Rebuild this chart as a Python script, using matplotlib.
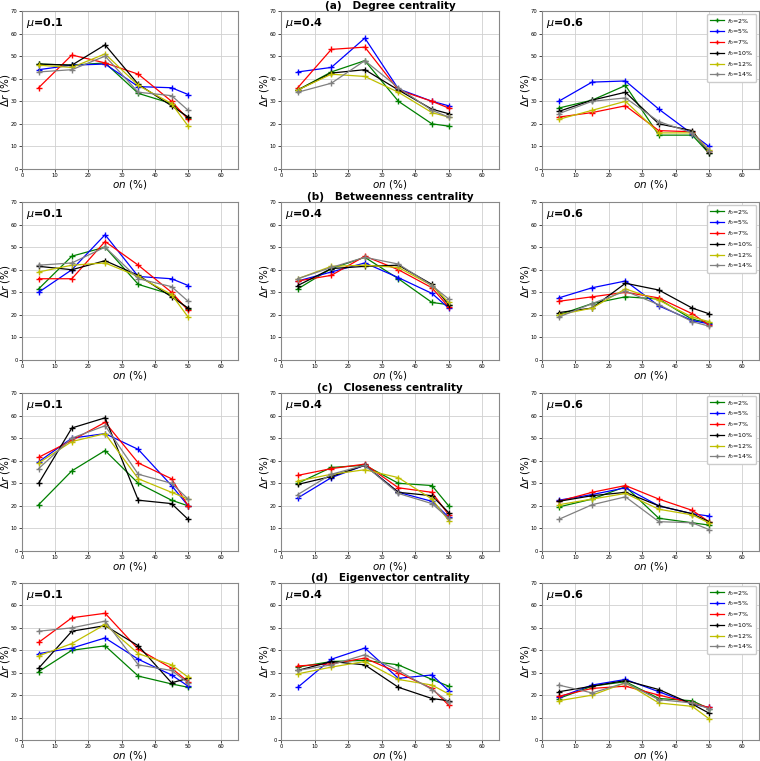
import matplotlib
matplotlib.use('Agg')
import matplotlib.pyplot as plt

# x positions (on %)
on_pct = [5, 15, 25, 35, 45, 50]

f0_labels = ['$f_0$=2%', '$f_0$=5%', '$f_0$=7%', '$f_0$=10%', '$f_0$=12%', '$f_0$=14%']
line_colors = ['green', 'blue', 'red', 'black', 'y', 'grey']

mu_values = ['0.1', '0.4', '0.6']
row_titles = ['(a)   Degree centrality', '(b)   Betweenness centrality',
              '(c)   Closeness centrality', '(d)   Eigenvector centrality']

# (a) degree centrality, order: 2%,5%,7%,10%,12%,14%
deg_mu01 = [[46.5, 46, 47, 33.5, 29, 22.5],
            [44, 46, 46.5, 36.5, 36, 33],
            [36, 50.5, 47, 42, 30, 22],
            [46.5, 46, 55, 37.5, 28, 23],
            [46, 45, 51, 37, 29, 19],
            [43, 44, 50, 34, 32.5, 26]]
deg_mu04 = [[35, 43, 48, 30, 20, 19],
            [43, 45, 58, 35.5, 30, 28],
            [36, 53, 54, 35, 30, 27],
            [35, 42.5, 44, 35, 26.5, 24.5],
            [35, 42, 41, 34, 25, 23],
            [34, 38, 48, 36, 26, 23]]
deg_mu06 = [[27, 30.5, 37, 15, 15, 7],
            [30, 38.5, 39, 26.5, 15.5, 10],
            [23, 25, 28, 17, 16.5, 8],
            [25.5, 30.5, 34, 20, 17, 7],
            [22, 26, 30, 16, 16, 8.5],
            [24.5, 30, 31.5, 21, 16, 8]]

# (b) betweenness centrality
btw_mu01 = [[31.5, 46, 50, 33.5, 29, 22.5],
            [30, 40, 55.5, 37, 36, 33],
            [36, 36, 52.5, 42, 30, 22],
            [41.5, 40, 44, 37.5, 28, 23],
            [39, 42, 43, 37, 29, 19],
            [42, 43, 50, 36, 32.5, 26]]
btw_mu04 = [[31.5, 40.5, 45.5, 36, 25.5, 24.5],
            [35, 39, 43, 36.5, 29.5, 23],
            [35, 37.5, 46, 40, 32, 23.5],
            [33, 40.5, 41.5, 42, 33.5, 24.5],
            [36, 41.5, 42, 41, 33, 25.5],
            [36, 41, 45.5, 42.5, 33, 27]]
btw_mu06 = [[20, 25, 28, 27, 18, 16.5],
            [27.5, 32, 35, 24, 17.5, 16],
            [26, 28, 30, 27.5, 20.5, 15.5],
            [21, 23, 34, 31, 23, 20.5],
            [20, 23, 31.5, 26.5, 19, 17],
            [19, 25, 30.5, 24.5, 17, 15]]

# (c) closeness centrality
clo_mu01 = [[20.5, 35.5, 44.5, 30, 22.5, 20],
            [39.5, 50, 52, 45, 29, 20],
            [41.5, 49, 57, 39, 32, 20],
            [30, 54.5, 59, 22.5, 21, 14],
            [39, 48.5, 52, 32, 26, 23],
            [36.5, 50, 55.5, 34, 30, 23]]
clo_mu04 = [[30, 37, 38, 30, 29, 20],
            [23.5, 32.5, 38, 26, 22, 15],
            [33.5, 36.5, 38.5, 28, 26, 16],
            [29.5, 33, 38, 26, 24.5, 17],
            [31, 34, 36, 32.5, 23, 13.5],
            [25, 34, 38, 25.5, 21, 14.5]]
clo_mu06 = [[19.5, 23, 28.5, 14.5, 12.5, 11.5],
            [22.5, 25, 28, 20, 16.5, 15.5],
            [22, 26, 29, 23, 18, 13],
            [22, 24.5, 26, 20, 16.5, 13],
            [20.5, 23, 25.5, 18.5, 16, 12.5],
            [14, 20.5, 24, 13, 12.5, 9.5]]

# (d) eigenvector centrality
eig_mu01 = [[30.5, 40, 42, 28.5, 25, 23.5],
            [38.5, 41, 45.5, 36, 29, 24],
            [43.5, 54.5, 56.5, 40.5, 32, 26],
            [32, 48.5, 51, 42, 25.5, 27.5],
            [37.5, 43, 51.5, 38.5, 33.5, 28],
            [48.5, 50, 53, 33.5, 31, 25.5]]
eig_mu04 = [[32.5, 35, 35.5, 33.5, 27, 24],
            [23.5, 36, 41, 27.5, 29, 22],
            [33, 34, 36.5, 30, 23, 15.5],
            [31, 35, 33.5, 23.5, 18.5, 17.5],
            [29.5, 32.5, 35, 27, 24.5, 20.5],
            [31, 33.5, 38, 31, 22.5, 17]]
eig_mu06 = [[18.5, 24, 26, 18.5, 17.5, 14],
            [19, 24.5, 27, 21.5, 16, 14.5],
            [19.5, 23, 24, 20, 16.5, 14.5],
            [21.5, 24, 26.5, 22.5, 16, 12],
            [17.5, 20, 25.5, 16.5, 15, 9.5],
            [24.5, 21, 25.5, 18, 16.5, 14]]

all_data = [[deg_mu01, deg_mu04, deg_mu06],
            [btw_mu01, btw_mu04, btw_mu06],
            [clo_mu01, clo_mu04, clo_mu06],
            [eig_mu01, eig_mu04, eig_mu06]]

W, H = 760, 761
fig = plt.figure(figsize=(W / 100, H / 100), dpi=100)

#axes boxes in pixels
col_x = [(22, 238), (281, 499), (542, 759)]
row_y = [(11, 169), (202, 360), (393, 551), (583, 740)]

for r in range(4):
    for c in range(3):
        x0, x1 = col_x[c]
        y0, y1 = row_y[r]
        ax = fig.add_axes([x0 / W, 1 - y1 / H, (x1 - x0) / W, (y1 - y0) / H])
        for k in range(6):
            ax.plot(on_pct, all_data[r][c][k], color=line_colors[k], marker='+',
                    markersize=4.5, linewidth=0.9, label=f0_labels[k])
        ax.set_xlim(0, 65)
        ax.set_ylim(0, 70)
        ax.set_xticks(range(0, 61, 10))
        ax.set_yticks(range(0, 71, 10))
        ax.tick_params(labelsize=3.8, length=2, width=0.5, pad=1.2)
        ax.grid(True, color='#d0d0d0', linewidth=0.6)
        for sp in ax.spines.values():
            sp.set_color('#888888')
            sp.set_linewidth(0.8)
        ax.set_xlabel('$on$ (%)', fontsize=7.5, labelpad=0)
        ax.set_ylabel('$\\Delta r$ (%)', fontsize=7.5, labelpad=-1)
        ax.text(0.02, 0.97, '$\\mu$' + '=' + mu_values[c], transform=ax.transAxes,
                ha='left', va='top', fontsize=8, fontweight='bold')
        if c == 1:
            ax.set_title(row_titles[r], fontsize=7.5, fontweight='bold', pad=1)
        if c == 2:
            ax.legend(loc='upper right', fontsize=4.5, handlelength=2.2,
                      markerscale=0.5, framealpha=1, edgecolor='#cccccc',
                      borderpad=0.4, labelspacing=0.3, handletextpad=0.6)

fig.savefig('out.png', dpi=100)
